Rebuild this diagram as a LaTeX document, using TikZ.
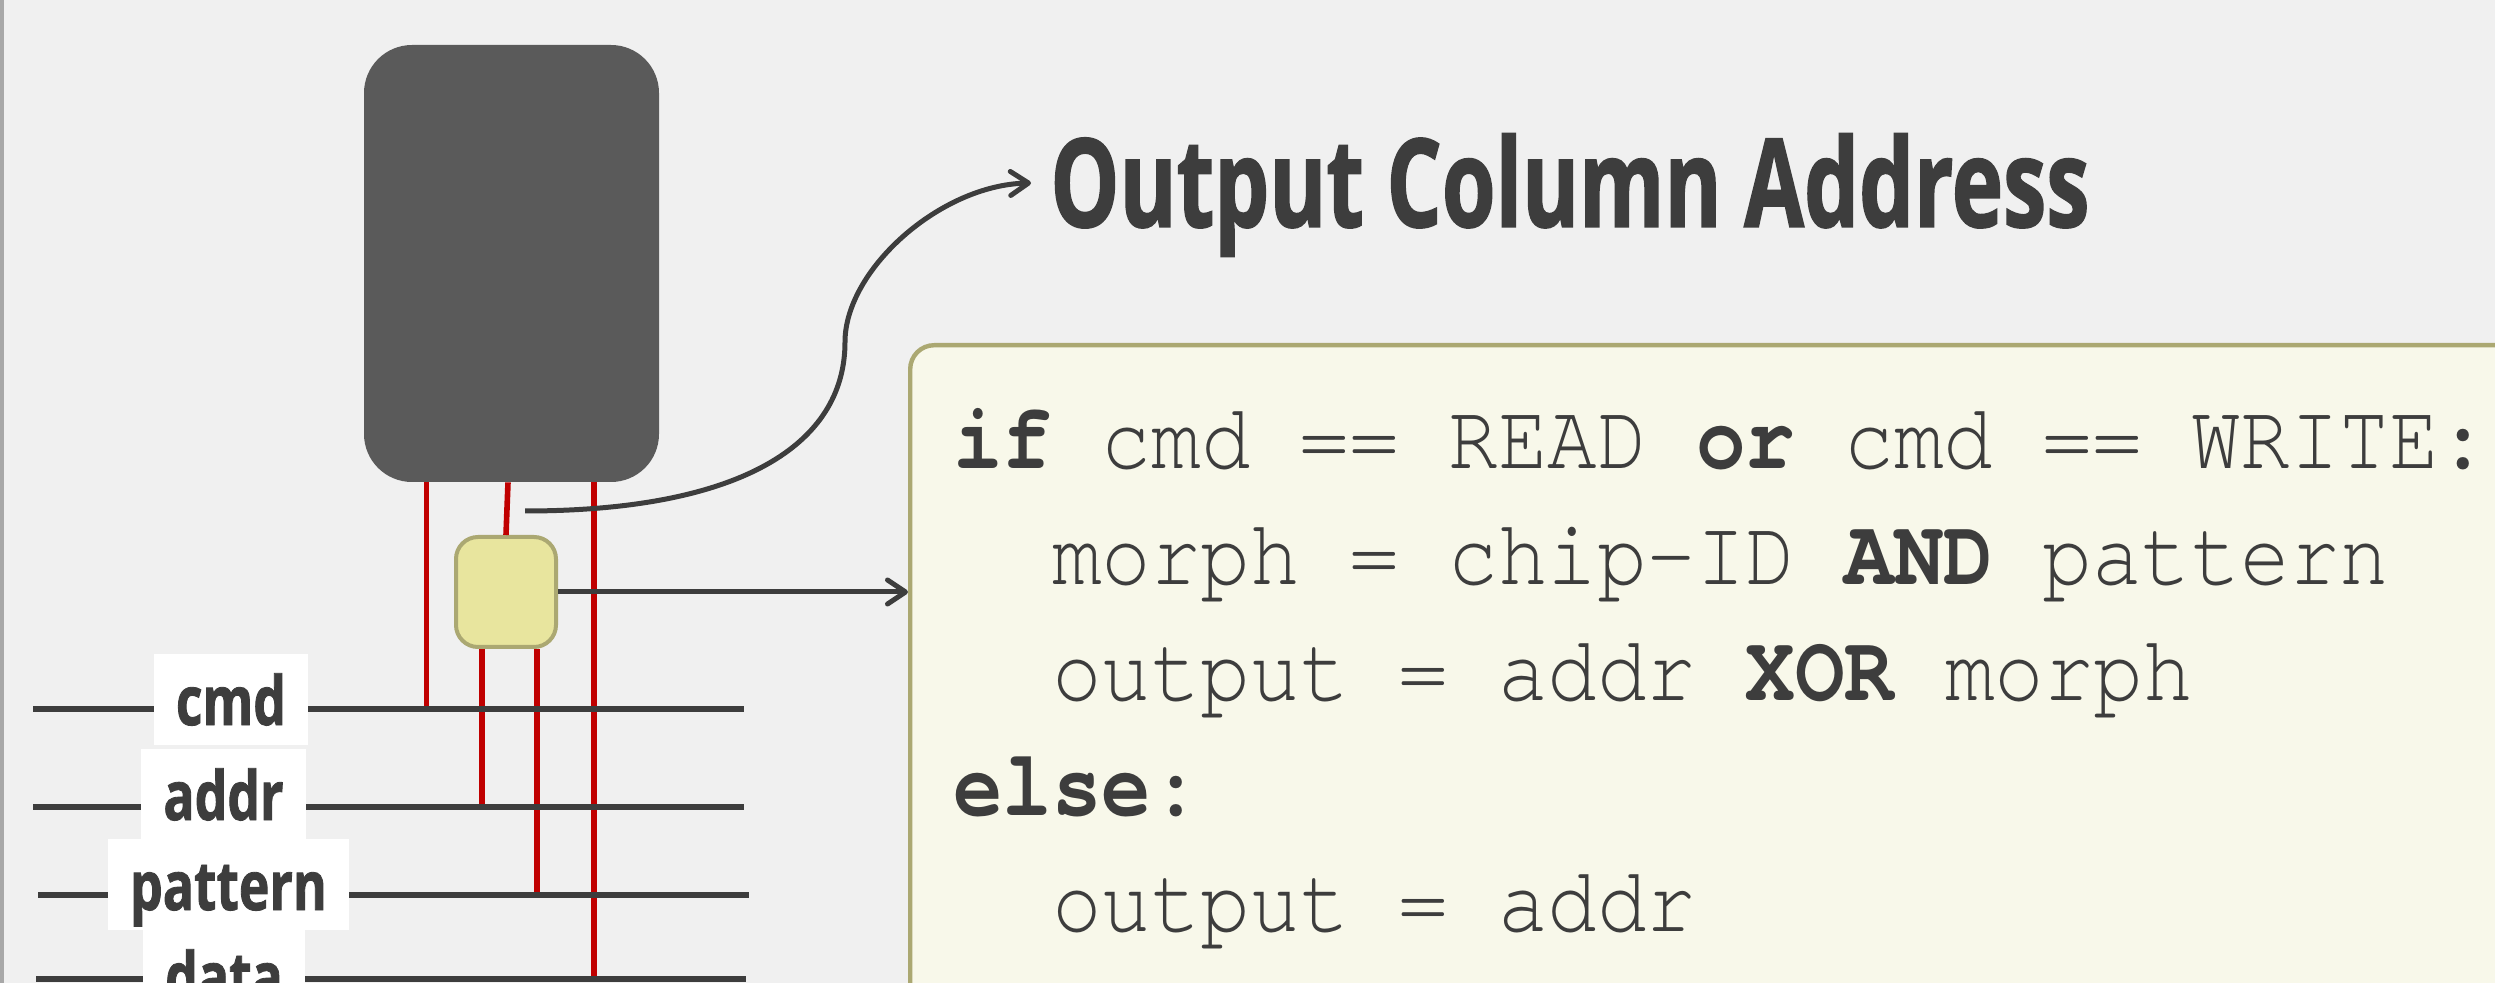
\documentclass[tikz,border=0pt]{standalone}
\usepackage{fontspec}
\usetikzlibrary{arrows.meta,calc}
\newfontfamily\labelfont[FakeStretch=0.76,FakeBold=1.2]{Open Sans}
\newfontfamily\headfont[FakeStretch=0.705,FakeBold=1.2]{Open Sans}
\newfontfamily\codefont[FakeStretch=0.878]{TeX Gyre Cursor}
\definecolor{bg}{HTML}{F0F0F0}
\definecolor{ink}{HTML}{3D3D3D}
\definecolor{chipgray}{HTML}{5A5A5A}
\definecolor{sigred}{HTML}{C00000}
\definecolor{morphfill}{HTML}{E8E59E}
\definecolor{morphline}{HTML}{ABA872}
\definecolor{codefill}{HTML}{F8F8EA}
\definecolor{edge}{HTML}{A8A8A8}
\tikzset{
  bus/.style={draw=ink, line width=2.9pt},
  sig/.style={draw=sigred, line width=2.8pt},
  arr/.style={draw=ink, line width=2.5pt, -{Straight Barb[length=9pt,width=12pt,line cap=round,line join=round]}},
  lbl/.style={fill=white, inner xsep=11pt, inner ysep=0pt, text height=35.5pt, text depth=10pt,
    text=ink, font=\labelfont\bfseries\fontsize{34pt}{40pt}\selectfont},
  chipbox/.style={fill=chipgray, minimum width=147.5pt, minimum height=218.5pt, rounded corners=24pt, inner sep=0pt},
  morphbox/.style={fill=morphfill, draw=morphline, line width=2pt, minimum width=50pt, minimum height=55pt, rounded corners=11pt, inner sep=0pt},
  codebox/.style={fill=codefill, draw=morphline, line width=2.2pt, minimum width=846pt, minimum height=380pt, rounded corners=12pt, inner sep=0pt},
  codeline/.style={inner sep=0pt, text=ink, font=\codefont\fontsize{47pt}{55pt}\selectfont},
  heading/.style={inner sep=0pt, text=ink, font=\headfont\bfseries\fontsize{61.6pt}{70pt}\selectfont}
}
\begin{document}
\begin{tikzpicture}[x=0.5pt,y=-0.5pt]
\fill[bg] (0,0) rectangle (2495,983);
\useasboundingbox (0,0) rectangle (2495,983);
\clip (0,0) rectangle (2495,983);
\draw[edge, line width=2.3pt] (2,0) -- (2,983);

% code box
\node[codebox, anchor=north west] (code) at (908,343) {};

% bus lines
\coordinate (cmdA) at (33,709);  \coordinate (cmdB) at (744,709);
\coordinate (addrA) at (33,807); \coordinate (addrB) at (744,807);
\coordinate (patA) at (38,895);  \coordinate (patB) at (749,895);
\coordinate (dataA) at (36,979); \coordinate (dataB) at (746,979);

% chip and morph box
\node[chipbox] (chip) at (511.5,263.5) {};
\node[morphbox] (morph) at (506,592) {};

% red signal lines
\coordinate (x1) at (426.5,0);
\coordinate (x2) at (508,0);
\coordinate (x3) at (482,0);
\coordinate (x4) at (537,0);
\coordinate (x5) at (594,0);
\draw[sig] (chip.south -| x1) -- (cmdA -| x1);
\draw[sig] (chip.south -| x2) -- (morph.north);
\draw[sig] (morph.south -| x3) -- (addrA -| x3);
\draw[sig] (morph.south -| x4) -- (patA -| x4);
\draw[sig] (chip.south -| x5) -- (dataA -| x5);

\draw[bus] (cmdA) -- (cmdB);
\draw[bus] (addrA) -- (addrB);
\draw[bus] (patA) -- (patB);
\draw[bus] (dataA) -- (dataB);

% labels
\node[lbl, anchor=base] (lcmd) at (231,725) {cmd};
\node[lbl, anchor=base] (laddr) at (223.5,820) {addr};
\node[lbl, anchor=base] (lpat) at (228.5,910) {pattern};
\node[lbl, anchor=base] (ldata) at (224,1001) {data};

% heading and arrows
\node[heading, anchor=base west] (head) at (1050,227) {Output Column Address};
\coordinate (cs) at (525,511);
\coordinate (ht) at (1031,183);
\draw[arr] (cs) .. controls (740,511) and (845,445) .. (845,342)
  .. controls (845,270) and (940,185) .. (ht);
\draw[arr] (morph.east) -- (morph.east -| code.west);

% code
\node[codeline, anchor=base west] (l1) at (953,469) {\textbf{if} cmd == READ \textbf{or} cmd == WRITE:};
\node[codeline, anchor=base west] (l2) at (1052,585) {morph = chip-ID \textbf{AND} pattern};
\node[codeline, anchor=base west] (l3) at (1052,700) {output = addr \textbf{XOR} morph};
\node[codeline, anchor=base west] (l4) at (953,815) {\textbf{else}:};
\node[codeline, anchor=base west] (l5) at (1052,931) {output = addr};
\end{tikzpicture}
\end{document}
